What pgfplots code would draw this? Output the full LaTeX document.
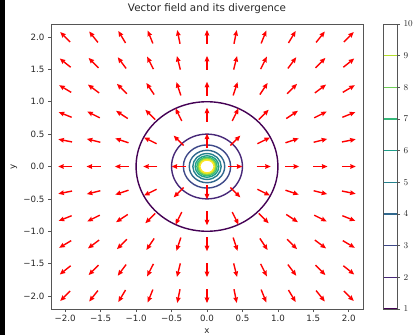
\documentclass[border=0pt]{standalone}
\usepackage{fontspec}
\setmainfont{DejaVu Sans}
\usepackage{pgfplots}
\pgfplotsset{compat=1.18}
\usepackage{pgfplotstable}
\usetikzlibrary{arrows.meta}

% viridis colours for the divergence levels 1..10
\definecolor{lv1}{HTML}{440154}
\definecolor{lv2}{HTML}{482878}
\definecolor{lv3}{HTML}{3E4989}
\definecolor{lv4}{HTML}{31688E}
\definecolor{lv5}{HTML}{26828E}
\definecolor{lv6}{HTML}{1F9E89}
\definecolor{lv7}{HTML}{35B779}
\definecolor{lv8}{HTML}{6ECE58}
\definecolor{lv9}{HTML}{B5DE2B}
\definecolor{lv10}{HTML}{FDE725}
\definecolor{spine}{HTML}{555555}

% unit radial field F = (x,y)/r sampled on an 11 x 11 grid
\pgfplotstableread[row sep=\\]{
x y u v\\
-2 2 -.7071 .7071\\ -1.6 2 -.6247 .7809\\ -1.2 2 -.5145 .8575\\ -0.8 2 -.3714 .9285\\ -0.4 2 -.1961 .9806\\ 0 2 0 1\\ 0.4 2 .1961 .9806\\ 0.8 2 .3714 .9285\\ 1.2 2 .5145 .8575\\ 1.6 2 .6247 .7809\\ 2 2 .7071 .7071\\
-2 1.6 -.7809 .6247\\ -1.6 1.6 -.7071 .7071\\ -1.2 1.6 -.6 .8\\ -0.8 1.6 -.4472 .8944\\ -0.4 1.6 -.2425 .9701\\ 0 1.6 0 1\\ 0.4 1.6 .2425 .9701\\ 0.8 1.6 .4472 .8944\\ 1.2 1.6 .6 .8\\ 1.6 1.6 .7071 .7071\\ 2 1.6 .7809 .6247\\
-2 1.2 -.8575 .5145\\ -1.6 1.2 -.8 .6\\ -1.2 1.2 -.7071 .7071\\ -0.8 1.2 -.5547 .8321\\ -0.4 1.2 -.3162 .9487\\ 0 1.2 0 1\\ 0.4 1.2 .3162 .9487\\ 0.8 1.2 .5547 .8321\\ 1.2 1.2 .7071 .7071\\ 1.6 1.2 .8 .6\\ 2 1.2 .8575 .5145\\
-2 0.8 -.9285 .3714\\ -1.6 0.8 -.8944 .4472\\ -1.2 0.8 -.8321 .5547\\ -0.8 0.8 -.7071 .7071\\ -0.4 0.8 -.4472 .8944\\ 0 0.8 0 1\\ 0.4 0.8 .4472 .8944\\ 0.8 0.8 .7071 .7071\\ 1.2 0.8 .8321 .5547\\ 1.6 0.8 .8944 .4472\\ 2 0.8 .9285 .3714\\
-2 0.4 -.9806 .1961\\ -1.6 0.4 -.9701 .2425\\ -1.2 0.4 -.9487 .3162\\ -0.8 0.4 -.8944 .4472\\ -0.4 0.4 -.7071 .7071\\ 0 0.4 0 1\\ 0.4 0.4 .7071 .7071\\ 0.8 0.4 .8944 .4472\\ 1.2 0.4 .9487 .3162\\ 1.6 0.4 .9701 .2425\\ 2 0.4 .9806 .1961\\
-2 0 -1 0\\ -1.6 0 -1 0\\ -1.2 0 -1 0\\ -0.8 0 -1 0\\ -0.4 0 -1 0\\ 0.4 0 1 0\\ 0.8 0 1 0\\ 1.2 0 1 0\\ 1.6 0 1 0\\ 2 0 1 0\\
-2 -0.4 -.9806 -.1961\\ -1.6 -0.4 -.9701 -.2425\\ -1.2 -0.4 -.9487 -.3162\\ -0.8 -0.4 -.8944 -.4472\\ -0.4 -0.4 -.7071 -.7071\\ 0 -0.4 0 -1\\ 0.4 -0.4 .7071 -.7071\\ 0.8 -0.4 .8944 -.4472\\ 1.2 -0.4 .9487 -.3162\\ 1.6 -0.4 .9701 -.2425\\ 2 -0.4 .9806 -.1961\\
-2 -0.8 -.9285 -.3714\\ -1.6 -0.8 -.8944 -.4472\\ -1.2 -0.8 -.8321 -.5547\\ -0.8 -0.8 -.7071 -.7071\\ -0.4 -0.8 -.4472 -.8944\\ 0 -0.8 0 -1\\ 0.4 -0.8 .4472 -.8944\\ 0.8 -0.8 .7071 -.7071\\ 1.2 -0.8 .8321 -.5547\\ 1.6 -0.8 .8944 -.4472\\ 2 -0.8 .9285 -.3714\\
-2 -1.2 -.8575 -.5145\\ -1.6 -1.2 -.8 -.6\\ -1.2 -1.2 -.7071 -.7071\\ -0.8 -1.2 -.5547 -.8321\\ -0.4 -1.2 -.3162 -.9487\\ 0 -1.2 0 -1\\ 0.4 -1.2 .3162 -.9487\\ 0.8 -1.2 .5547 -.8321\\ 1.2 -1.2 .7071 -.7071\\ 1.6 -1.2 .8 -.6\\ 2 -1.2 .8575 -.5145\\
-2 -1.6 -.7809 -.6247\\ -1.6 -1.6 -.7071 -.7071\\ -1.2 -1.6 -.6 -.8\\ -0.8 -1.6 -.4472 -.8944\\ -0.4 -1.6 -.2425 -.9701\\ 0 -1.6 0 -1\\ 0.4 -1.6 .2425 -.9701\\ 0.8 -1.6 .4472 -.8944\\ 1.2 -1.6 .6 -.8\\ 1.6 -1.6 .7071 -.7071\\ 2 -1.6 .7809 -.6247\\
-2 -2 -.7071 -.7071\\ -1.6 -2 -.6247 -.7809\\ -1.2 -2 -.5145 -.8575\\ -0.8 -2 -.3714 -.9285\\ -0.4 -2 -.1961 -.9806\\ 0 -2 0 -1\\ 0.4 -2 .1961 -.9806\\ 0.8 -2 .3714 -.9285\\ 1.2 -2 .5145 -.8575\\ 1.6 -2 .6247 -.7809\\ 2 -2 .7071 -.7071\\
}\field

\begin{document}
\begin{tikzpicture}
\useasboundingbox (0,0) rectangle (415bp,335bp);
\fill[black] (0,0) rectangle (4.5bp,335bp);

\begin{axis}[
  at={(51bp,26bp)}, anchor=south west,
  scale only axis, width=312bp, height=285bp,
  xmin=-2.2, xmax=2.2, ymin=-2.2, ymax=2.2,
  xtick={-2,-1.5,-1,-0.5,0,0.5,1,1.5,2},
  ytick={-2,-1.5,-1,-0.5,0,0.5,1,1.5,2},
  xticklabels={−2.0,−1.5,−1.0,−0.5,0.0,0.5,1.0,1.5,2.0},
  yticklabels={−2.0,−1.5,−1.0,−0.5,0.0,0.5,1.0,1.5,2.0},
  tick align=outside, tick pos=left,
  major tick length=3bp,
  tick style={spine, line width=0.7bp},
  axis line style={spine, line width=0.7bp},
  ticklabel style={font=\fontsize{8.7}{10}\selectfont, text=black!85},
  title={Vector field and its divergence},
  title style={at={(axis description cs:0.5,1.032)}, anchor=center,
    font=\fontsize{10.4}{12}\selectfont, text=black!85},
  xlabel={x}, ylabel={y},
  label style={font=\fontsize{8.7}{10}\selectfont, text=black!85},
  xlabel style={at={(axis description cs:0.5,-0.077)}, anchor=center},
  ylabel style={at={(axis description cs:-0.119,0.5)}, anchor=center},
  clip=true,
]
  % divergence of F is 1/r: contour level k is the circle of radius 1/k
  \draw[lv1,  line width=1.4bp] (axis cs:0,0) ellipse [x radius=1,      y radius=1];
  \draw[lv2,  line width=1.4bp] (axis cs:0,0) ellipse [x radius=0.5,    y radius=0.5];
  \draw[lv3,  line width=1.4bp] (axis cs:0,0) ellipse [x radius=0.3333, y radius=0.3333];
  \draw[lv4,  line width=1.4bp] (axis cs:0,0) ellipse [x radius=0.25,   y radius=0.25];
  \draw[lv5,  line width=1.4bp] (axis cs:0,0) ellipse [x radius=0.2,    y radius=0.2];
  \draw[lv6,  line width=1.4bp] (axis cs:0,0) ellipse [x radius=0.1667, y radius=0.1667];
  \draw[lv7,  line width=1.4bp] (axis cs:0,0) ellipse [x radius=0.1429, y radius=0.1429];
  \draw[lv8,  line width=1.4bp] (axis cs:0,0) ellipse [x radius=0.125,  y radius=0.125];
  \draw[lv9,  line width=1.4bp] (axis cs:0,0) ellipse [x radius=0.1111, y radius=0.1111];
  \draw[lv10, line width=1.4bp] (axis cs:0,0) ellipse [x radius=0.1,    y radius=0.1];

  % unit arrows, centred on the grid points
  \addplot[red, line width=1.4bp,
    quiver={u=\thisrow{u}*0.1975, v=\thisrow{v}*0.216,
      every arrow/.append style={-{Stealth[length=5.5bp,width=4.6bp,inset=0.5bp]}}}]
    table[x expr=\thisrow{x}-0.0987*\thisrow{u}, y expr=\thisrow{y}-0.108*\thisrow{v}] {\field};
\end{axis}

% colour bar of the contour levels
\begin{axis}[
  at={(383bp,26bp)}, anchor=south west,
  scale only axis, width=14bp, height=285bp,
  xmin=0, xmax=1, ymin=1, ymax=10,
  xtick=\empty, ytick={1,2,...,10},
  ytick pos=right, yticklabel pos=right,
  tick align=outside, major tick length=3bp,
  tick style={spine, line width=0.7bp},
  axis line style={spine, line width=0.7bp},
  ticklabel style={font=\fontsize{8.7}{10}\selectfont, text=black!85},
  axis on top, clip=false,
]
  \addplot[lv1,  line width=1.5bp] coordinates {(0,1) (1,1)};
  \addplot[lv2,  line width=1.5bp] coordinates {(0,2) (1,2)};
  \addplot[lv3,  line width=1.5bp] coordinates {(0,3) (1,3)};
  \addplot[lv4,  line width=1.5bp] coordinates {(0,4) (1,4)};
  \addplot[lv5,  line width=1.5bp] coordinates {(0,5) (1,5)};
  \addplot[lv6,  line width=1.5bp] coordinates {(0,6) (1,6)};
  \addplot[lv7,  line width=1.5bp] coordinates {(0,7) (1,7)};
  \addplot[lv8,  line width=1.5bp] coordinates {(0,8) (1,8)};
  \addplot[lv9,  line width=1.5bp] coordinates {(0,9) (1,9)};
\end{axis}
\end{tikzpicture}
\end{document}
